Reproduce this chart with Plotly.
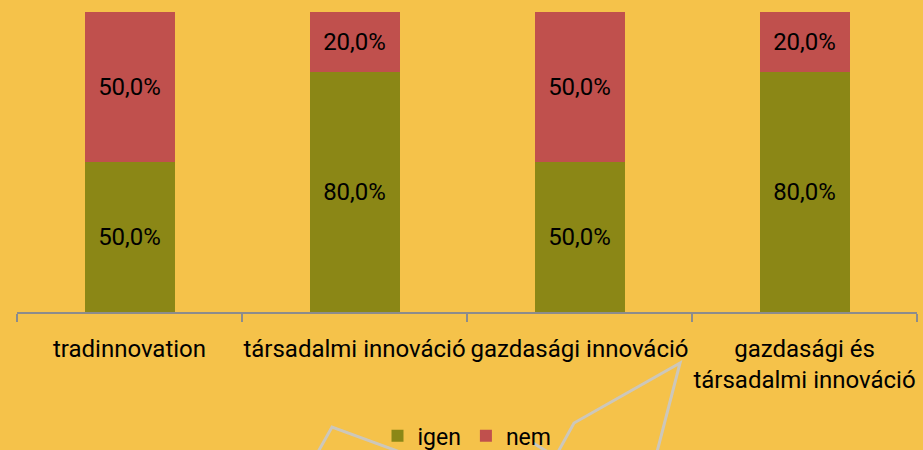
import plotly.graph_objects as go

categories = ["tradinnovation", "társadalmi innováció", "gazdasági innováció",
              "gazdasági és<br>társadalmi innováció"]
igen = [50.0, 80.0, 50.0, 80.0]
nem = [50.0, 20.0, 50.0, 20.0]

BG = "#F5C24A"
OLIVE = "#8B8716"
RED = "#C0504D"
FONT = "Roboto"


def fmt(v):
    return f"{v:.1f}%".replace(".", ",")


fig = go.Figure()
fig.add_trace(go.Bar(
    x=categories, y=igen, name="igen", marker=dict(color=OLIVE, line=dict(width=0)),
    text=[fmt(v) for v in igen], textposition="inside", insidetextanchor="middle",
    textfont=dict(family=FONT, size=24, color="#000000"), hoverinfo="skip"))
fig.add_trace(go.Bar(
    x=categories, y=nem, name="nem", marker=dict(color=RED, line=dict(width=0)),
    text=[fmt(v) for v in nem], textposition="inside", insidetextanchor="middle",
    textfont=dict(family=FONT, size=24, color="#000000"), hoverinfo="skip"))

# decorative light-grey arrow outlines from the slide background (pixel coords)
W0, H0 = 17, 312
PW, PH = 900, 300
deco = [
    [(318, 452), (332, 427), (400, 452)],
    [(533, 443), (548, 452)],
    [(558, 452), (574, 423), (680, 363), (657, 452)],
]
shapes = []
for poly in deco:
    pts = [((x - W0) / PW, (H0 - y) / PH) for x, y in poly]
    path = "M " + " L ".join(f"{px:.4f},{py:.4f}" for px, py in pts)
    shapes.append(dict(type="path", path=path, xref="paper", yref="paper",
                       line=dict(color="rgba(200,200,200,0.9)", width=3), layer="below"))

fig.update_layout(
    width=923, height=450,
    barmode="stack", bargap=0.6,
    paper_bgcolor=BG, plot_bgcolor=BG,
    margin=dict(l=17, r=6, t=12, b=138, autoexpand=False),
    font=dict(family=FONT, size=24, color="#000000"),
    showlegend=True,
    legend=dict(orientation="h", x=0.5, xanchor="center", y=-0.413, yanchor="middle",
                font=dict(family=FONT, size=23), bgcolor="rgba(0,0,0,0)",
                itemwidth=30, traceorder="normal"),
    shapes=shapes,
    uniformtext=dict(mode=False),
)
fig.update_xaxes(
    showline=True, linecolor="#8C8C8C", linewidth=2, automargin=False,
    ticks="outside", tickson="boundaries", ticklen=8, tickcolor="#8C8C8C", tickwidth=2,
    ticklabelstandoff=14,
    tickangle=0, tickfont=dict(family=FONT, size=24, color="#000000"),
    showgrid=False, fixedrange=True,
)
fig.update_yaxes(range=[0, 100], visible=False, showgrid=False, fixedrange=True)

fig.write_html("out.html", config={"displayModeBar": False},
               post_script="document.body.style.margin='0';document.body.style.padding='0';")
